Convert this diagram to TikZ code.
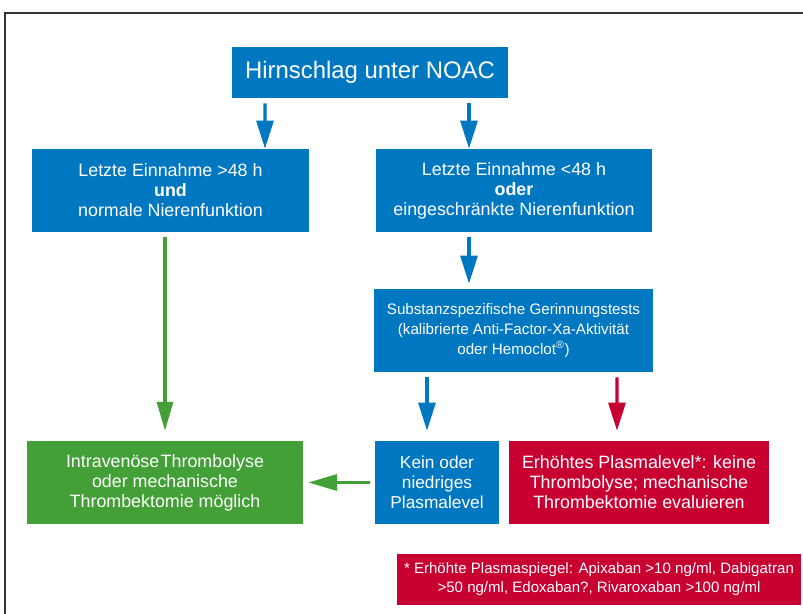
\documentclass[tikz,border=0pt]{standalone}
\usepackage{fontspec}
\setmainfont{Liberation Sans}
\usepackage{tikz}
\usetikzlibrary{arrows.meta}
\usepackage{xcolor}
\definecolor{nblue}{RGB}{0,119,193}
\definecolor{ngreen}{RGB}{67,160,55}
\definecolor{nred}{RGB}{200,0,50}

\begin{document}
\begin{tikzpicture}
  [x=0.025cm, y=-0.025cm,
   box/.style={fill=#1, text=white, align=center, inner sep=0pt,
     font=\fontsize{12.7}{14.2}\selectfont, minimum height=2.075cm},
   barrow/.style={draw=nblue, line width=2.4pt, -{Triangle[length=0.7cm,width=0.42cm]}},
   garrow/.style={draw=ngreen, line width=2.2pt, -{Triangle[length=0.72cm,width=0.4cm]}},
   rarrow/.style={draw=nred, line width=2.4pt, -{Triangle[length=0.7cm,width=0.42cm]}},
  ]
  \useasboundingbox (0,0) rectangle (803,613);
  \draw[line width=1.4pt, black!80] (5,630) -- (5,13) -- (820,13);

  \node[box=nblue, minimum width=6.9cm, minimum height=1.275cm,
        font=\fontsize{17}{20}\selectfont] (top) at (370,72.5) {Hirnschlag unter NOAC};

  \node[box=nblue, minimum width=6.925cm] (L1) at (170.5,190.5)
    {Letzte Einnahme >48 h\\\textbf{und}\\normale Nierenfunktion};
  \node[box=nblue, minimum width=6.9cm] (R1) at (514,190.5)
    {Letzte Einnahme <48 h\\\textbf{oder}\\eingeschränkte Nierenfunktion};
  \node[box=nblue, minimum width=6.975cm, font=\fontsize{10.8}{14.2}\selectfont] (R2) at (513.5,330.5)
    {Substanzspezifische Gerinnungstests\\(kalibrierte Anti-Factor-Xa-Aktivität\\oder Hemoclot\textsuperscript{\textregistered})};

  \node[box=ngreen, minimum width=6.9cm] (green) at (165,482.5)
    {Intravenöse\kern1pt Thrombolyse\\oder mechanische\\Thrombektomie möglich};
  \node[box=nblue, minimum width=3.1cm, font=\fontsize{12.3}{14.2}\selectfont] (low) at (437,482.5)
    {Kein oder\\niedriges\\Plasmalevel};
  \node[box=nred, minimum width=6.5cm] (high) at (639,482.5)
    {Erhöhtes Plasmalevel*: keine\\Thrombolyse; mechanische\\Thrombektomie evaluieren};

  \node[box=nred, minimum width=10.1cm, minimum height=1.275cm,
        font=\fontsize{10.7}{13.5}\selectfont] (foot) at (599,579.5)
    {* Erhöhte Plasmaspiegel: Apixaban >10 ng/ml, Dabigatran\\>50 ng/ml, Edoxaban?, Rivaroxaban >100 ng/ml};

  \path ([shift={(-105,5)}]top.south) edge[barrow] ([shift={(94.5,0)}]L1.north)
        ([shift={(99,5)}]top.south) edge[barrow] ([shift={(-45,0)}]R1.north)
        ([shift={(-45,5)}]R1.south) edge[barrow] ([shift={(-44.5,-5)}]R2.north)
        ([shift={(-86.5,5)}]R2.south) edge[barrow] ([shift={(-10,-10)}]low.north)
        ([shift={(103.5,5)}]R2.south) edge[rarrow] ([shift={(-22,-10)}]high.north)
        ([shift={(-5.5,5)}]L1.south) edge[garrow] ([shift={(0,-10)}]green.north)
        ([shift={(-5,0)}]low.west) edge[garrow] ([shift={(5,0)}]green.east);

\end{tikzpicture}
\end{document}
